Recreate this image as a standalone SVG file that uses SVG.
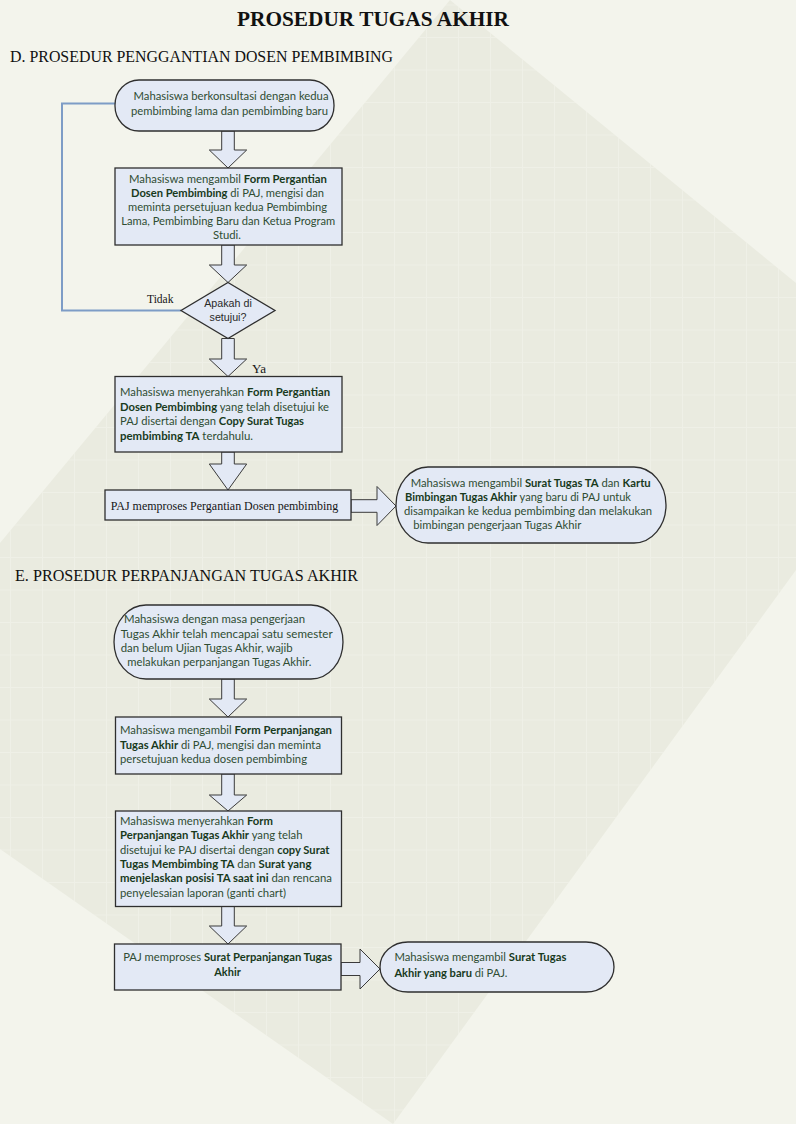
<svg xmlns="http://www.w3.org/2000/svg" width="796" height="1124" viewBox="0 0 796 1124">
<style>
.bgl{fill:#f3f4ec}
.bgd{fill:#eaebe0}
.node{fill:#e3e9f5;stroke:#2f2f2f;stroke-width:1.3}
.arr{fill:#e3e9f5;stroke:#3a3a3a;stroke-width:1}
.loop{fill:none;stroke:#7d9cc6;stroke-width:2}
.t{font-family:Lato,"Open Sans",sans-serif;font-size:11px;fill:#2f4d33}
.b{font-weight:700;fill:#183a1c}
.serif{font-family:"Liberation Serif","Times New Roman",serif;fill:#151515}
.h{font-family:"Liberation Serif","Times New Roman",serif;fill:#111}
.dt{font-family:"Liberation Sans",Arial,sans-serif;font-size:10.7px;fill:#2a2a2a}
</style>
<defs>
<pattern id="grid" width="32" height="32.5" patternUnits="userSpaceOnUse" x="426" y="687">
<path d="M0.5,0 V32.5 M0,0.5 H32" fill="none" stroke="#f5f6ef" stroke-width="1"/>
</pattern>
<clipPath id="dia"><polygon points="450,0 796,283 796,570 393,1124 0,849 0,543"/></clipPath>
</defs>
<g id="background">
<rect class="bgl" x="0" y="0" width="796" height="1124"/>
<polygon class="bgd" points="450,0 796,283 796,570 393,1124 0,849 0,543"/>
<rect x="0" y="0" width="796" height="1124" fill="url(#grid)" opacity="0.45" clip-path="url(#dia)"/>
</g>
<g id="titles">
<text class="h" x="373" y="26" text-anchor="middle" font-size="21" font-weight="700" textLength="272" lengthAdjust="spacingAndGlyphs">PROSEDUR TUGAS AKHIR</text>
<text class="h" x="10" y="62" font-size="17.5" textLength="383" lengthAdjust="spacingAndGlyphs">D. PROSEDUR PENGGANTIAN DOSEN PEMBIMBING</text>
<text class="h" x="15" y="581" font-size="17.5" textLength="343" lengthAdjust="spacingAndGlyphs">E. PROSEDUR PERPANJANGAN TUGAS AKHIR</text>
</g>
<g id="connectors">
<polyline class="loop" points="181,310.5 62,310.5 62,103.5 115,103.5"/>
<path class="arr" d="M221.7,131 H234.3 V150 H246.7 L228,168 L209.3,150 H221.7 Z"/>
<path class="arr" d="M221.7,245 H234.3 V265 H246.7 L228,282.5 L209.3,265 H221.7 Z"/>
<path class="arr" d="M221.7,338.5 H234.3 V359 H246.7 L228,376.5 L209.3,359 H221.7 Z"/>
<path class="arr" d="M221.7,452 H234.3 V464 H246.7 L228,490 L209.3,464 H221.7 Z"/>
<path class="arr" d="M351,499.7 H377 V486.5 L396,506 L377,525.5 V512.3 H351 Z"/>
<path class="arr" d="M221.7,679 H234.3 V699 H246.7 L228,717 L209.3,699 H221.7 Z"/>
<path class="arr" d="M221.7,774 H234.3 V795 H246.7 L228,811 L209.3,795 H221.7 Z"/>
<path class="arr" d="M221.7,906.5 H234.3 V926 H246.7 L228,944 L209.3,926 H221.7 Z"/>
<path class="arr" d="M341,962.5 H360 V949 L380,969 L360,989 V975.5 H341 Z"/>
<text class="serif" x="147" y="303" font-size="12.5" textLength="26.5" lengthAdjust="spacingAndGlyphs">Tidak</text>
<text class="serif" x="252" y="373" font-size="12.5" textLength="14" lengthAdjust="spacingAndGlyphs">Ya</text>
</g>
<g id="d1">
<rect class="node" x="115" y="80" width="219" height="51" rx="24" ry="25"/>
<text class="t" x="231" y="99.5" text-anchor="middle" textLength="195" lengthAdjust="spacingAndGlyphs">Mahasiswa berkonsultasi dengan kedua</text>
<text class="t" x="229.5" y="114.5" text-anchor="middle" textLength="197" lengthAdjust="spacingAndGlyphs">pembimbing lama dan pembimbing baru</text>
</g>
<g id="d2">
<rect class="node" x="115" y="168" width="227" height="77"/>
<text class="t" x="228" y="183" text-anchor="middle" textLength="198" lengthAdjust="spacingAndGlyphs">Mahasiswa mengambil <tspan class="b">Form Pergantian</tspan></text>
<text class="t" x="227.5" y="197" text-anchor="middle" textLength="193" lengthAdjust="spacingAndGlyphs"><tspan class="b">Dosen Pembimbing</tspan> di PAJ, mengisi dan</text>
<text class="t" x="227.5" y="211" text-anchor="middle" textLength="199" lengthAdjust="spacingAndGlyphs">meminta persetujuan kedua Pembimbing</text>
<text class="t" x="228.3" y="225" text-anchor="middle" textLength="214" lengthAdjust="spacingAndGlyphs">Lama, Pembimbing Baru dan Ketua Program</text>
<text class="t" x="227" y="239" text-anchor="middle" textLength="28" lengthAdjust="spacingAndGlyphs">Studi.</text>
</g>
<g id="d3">
<polygon class="node" points="228,282.5 275,310.5 228,338.5 181,310.5"/>
<text class="dt" x="228" y="307" text-anchor="middle">Apakah di</text>
<text class="dt" x="228" y="320.5" text-anchor="middle">setujui?</text>
</g>
<g id="d4">
<rect class="node" x="115" y="376.5" width="227" height="75.5"/>
<text class="t" x="120" y="396" textLength="210" lengthAdjust="spacingAndGlyphs">Mahasiswa menyerahkan <tspan class="b">Form Pergantian</tspan></text>
<text class="t" x="120" y="410.5" textLength="209" lengthAdjust="spacingAndGlyphs"><tspan class="b">Dosen Pembimbing</tspan> yang telah disetujui ke</text>
<text class="t" x="120" y="425" textLength="184" lengthAdjust="spacingAndGlyphs">PAJ disertai dengan <tspan class="b">Copy Surat Tugas</tspan></text>
<text class="t" x="120" y="439.5" textLength="133" lengthAdjust="spacingAndGlyphs"><tspan class="b">pembimbing TA</tspan> terdahulu.</text>
</g>
<g id="d5">
<rect class="node" x="105" y="490" width="246" height="30"/>
<text class="serif" x="110.7" y="510" font-size="13.3" textLength="227.6" lengthAdjust="spacingAndGlyphs">PAJ memproses Pergantian Dosen pembimbing</text>
</g>
<g id="d6">
<rect class="node" x="396" y="467" width="270" height="76" rx="32" ry="38"/>
<text class="t" x="410.7" y="486.5" textLength="240" lengthAdjust="spacingAndGlyphs">Mahasiswa mengambil <tspan class="b">Surat Tugas TA</tspan> dan <tspan class="b">Kartu</tspan></text>
<text class="t" x="405" y="500.5" textLength="226" lengthAdjust="spacingAndGlyphs"><tspan class="b">Bimbingan Tugas Akhir</tspan> yang baru di PAJ untuk</text>
<text class="t" x="404" y="515" textLength="248" lengthAdjust="spacingAndGlyphs">disampaikan ke kedua pembimbing dan melakukan</text>
<text class="t" x="413.3" y="528.5" textLength="168" lengthAdjust="spacingAndGlyphs">bimbingan pengerjaan Tugas Akhir</text>
</g>
<g id="e1">
<rect class="node" x="114" y="605" width="229" height="74" rx="32" ry="37"/>
<text class="t" x="124" y="623" textLength="181" lengthAdjust="spacingAndGlyphs">Mahasiswa dengan masa pengerjaan</text>
<text class="t" x="120.7" y="637.5" textLength="212" lengthAdjust="spacingAndGlyphs">Tugas Akhir telah mencapai satu semester</text>
<text class="t" x="120.7" y="652" textLength="172" lengthAdjust="spacingAndGlyphs">dan belum Ujian Tugas Akhir, wajib</text>
<text class="t" x="127.3" y="666" textLength="184" lengthAdjust="spacingAndGlyphs">melakukan perpanjangan Tugas Akhir.</text>
</g>
<g id="e2">
<rect class="node" x="115.5" y="717" width="226" height="57"/>
<text class="t" x="120" y="734" textLength="212" lengthAdjust="spacingAndGlyphs">Mahasiswa mengambil <tspan class="b">Form Perpanjangan</tspan></text>
<text class="t" x="120" y="748.5" textLength="201" lengthAdjust="spacingAndGlyphs"><tspan class="b">Tugas Akhir</tspan> di PAJ, mengisi dan meminta</text>
<text class="t" x="120" y="763" textLength="187" lengthAdjust="spacingAndGlyphs">persetujuan kedua dosen pembimbing</text>
</g>
<g id="e3">
<rect class="node" x="115.5" y="811" width="226" height="95.5"/>
<text class="t" x="120" y="825" textLength="153" lengthAdjust="spacingAndGlyphs">Mahasiswa menyerahkan <tspan class="b">Form</tspan></text>
<text class="t" x="120" y="839" textLength="182.5" lengthAdjust="spacingAndGlyphs"><tspan class="b">Perpanjangan Tugas Akhir</tspan> yang telah</text>
<text class="t" x="120" y="854" textLength="209.5" lengthAdjust="spacingAndGlyphs">disetujui ke PAJ disertai dengan <tspan class="b">copy Surat</tspan></text>
<text class="t" x="120" y="868" textLength="191.5" lengthAdjust="spacingAndGlyphs"><tspan class="b">Tugas Membimbing TA</tspan> dan <tspan class="b">Surat yang</tspan></text>
<text class="t" x="120" y="882" textLength="212" lengthAdjust="spacingAndGlyphs"><tspan class="b">menjelaskan posisi TA saat ini</tspan> dan rencana</text>
<text class="t" x="120" y="897" textLength="166" lengthAdjust="spacingAndGlyphs">penyelesaian laporan (ganti chart)</text>
</g>
<g id="e4">
<rect class="node" x="114.5" y="944" width="226.5" height="46"/>
<text class="t" x="227.7" y="961" text-anchor="middle" textLength="209" lengthAdjust="spacingAndGlyphs">PAJ memproses <tspan class="b">Surat Perpanjangan Tugas</tspan></text>
<text class="t b" x="227.5" y="976" text-anchor="middle" textLength="26.5" lengthAdjust="spacingAndGlyphs">Akhir</text>
</g>
<g id="e5">
<rect class="node" x="380" y="942" width="234" height="50" rx="28" ry="25"/>
<text class="t" x="394.4" y="961" textLength="172" lengthAdjust="spacingAndGlyphs">Mahasiswa mengambil <tspan class="b">Surat Tugas</tspan></text>
<text class="t" x="394.4" y="977" textLength="113" lengthAdjust="spacingAndGlyphs"><tspan class="b">Akhir yang baru</tspan> di PAJ.</text>
</g>
</svg>
